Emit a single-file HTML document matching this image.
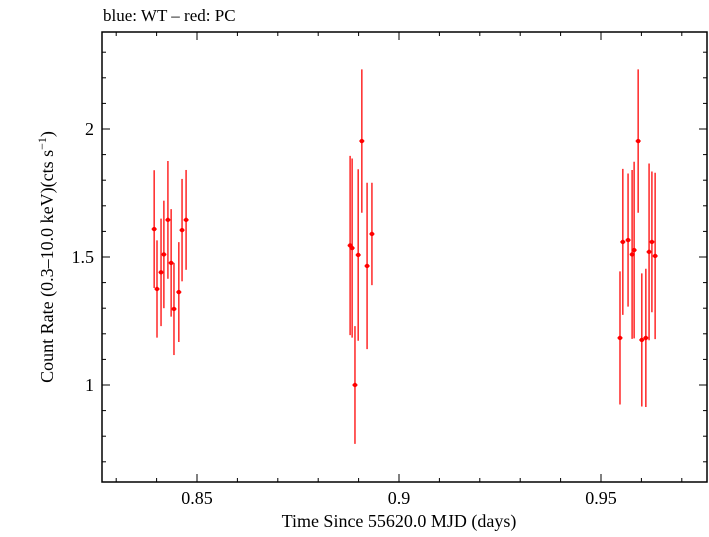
<!DOCTYPE html>
<html><head><meta charset="utf-8"><style>
body{margin:0;background:#fff;}
svg text{font-family:"Liberation Serif",serif;fill:#000;}
</style></head><body>
<svg id="chart" width="709" height="532" viewBox="0 0 709 532" xmlns="http://www.w3.org/2000/svg">
<text x="103" y="21" font-size="17">blue: WT – red: PC</text>
<rect x="102" y="32" width="605" height="450" fill="none" stroke="#000" stroke-width="1.5"/>
<g id="ticks"></g>
<g id="marks"></g>
<text x="399" y="527" font-size="18" text-anchor="middle">Time Since 55620.0 MJD (days)</text>
<text transform="translate(53,257) rotate(-90)" font-size="18" text-anchor="middle">Count Rate (0.3–10.0 keV)(cts s<tspan baseline-shift="super" font-size="12">−1</tspan>)</text>
</svg>
<script>
const times=[0.8394,0.8401,0.8411,0.8418,0.8428,0.8436,0.8443,0.8455,0.8463,0.8473,
0.8879,0.8884,0.8891,0.8899,0.8908,0.8921,0.8933,
0.9547,0.9554,0.9567,0.9577,0.9582,0.9592,0.9601,0.9611,0.9619,0.9626,0.9634];
const rates=[1.609,1.375,1.44,1.51,1.645,1.477,1.297,1.363,1.605,1.645,
1.545,1.535,1.0,1.508,1.953,1.465,1.59,
1.184,1.559,1.566,1.51,1.527,1.953,1.176,1.184,1.52,1.559,1.504];
const errs=[0.23,0.19,0.21,0.21,0.23,0.21,0.18,0.195,0.2,0.195,
0.35,0.35,0.23,0.335,0.28,0.325,0.2,
0.26,0.285,0.26,0.33,0.345,0.28,0.26,0.27,0.345,0.275,0.325];
const xMajor=[0.85,0.9,0.95];
const xLabels=["0.85","0.9","0.95"];
const yMajor=[1,1.5,2];
const yLabels=["1","1.5","2"];
const L=102,R=707,T=32,B=482;
const xs=t=>197+(t-0.85)*4040;
const ys=r=>385-(r-1)*256;
const NS="http://www.w3.org/2000/svg";
function mk(tag,attrs,parent){const e=document.createElementNS(NS,tag);for(const k in attrs)e.setAttribute(k,attrs[k]);parent.appendChild(e);return e;}
const tg=document.getElementById('ticks');
for(let i=82;i<=98;i++){const v=i/100,x=xs(v);if(x<L||x>R)continue;const maj=i%5===0;const len=maj?8:4;
 const a=mk('line',{x1:x,x2:x,y1:B,y2:B-len,stroke:'#000','stroke-width':1},tg);
 
 const b=mk('line',{x1:x,x2:x,y1:T,y2:T+len,stroke:'#000','stroke-width':1},tg);
 }
for(let i=6;i<=24;i++){const v=i/10,y=ys(v);if(y<T||y>B)continue;const maj=i%5===0;const len=maj?8:4;
 const a=mk('line',{x1:L,x2:L+len,y1:y,y2:y,stroke:'#000','stroke-width':1},tg);
 
 const b=mk('line',{x1:R,x2:R-len,y1:y,y2:y,stroke:'#000','stroke-width':1},tg);
 }
xMajor.forEach((v,i)=>{const t=mk('text',{x:xs(v),y:504,'font-size':18,'text-anchor':'middle'},tg);t.textContent=xLabels[i];
 });
yMajor.forEach((v,i)=>{const t=mk('text',{x:94,y:ys(v)+6,'font-size':18,'text-anchor':'end'},tg);t.textContent=yLabels[i];
 });
const mg=document.getElementById('marks');
times.forEach((t,i)=>{const x=xs(t),y=ys(rates[i]);
 const g=mk('g',{},mg);
 
 
 mk('line',{x1:x,x2:x,y1:ys(rates[i]+errs[i]),y2:ys(rates[i]-errs[i]),stroke:'#ff0000','stroke-width':1.5,'stroke-opacity':0.85},g);
 mk('line',{x1:x-2.5,x2:x+2.5,y1:y,y2:y,stroke:'#ff0000','stroke-width':1.5},g);
 mk('circle',{cx:x,cy:y,r:2.2,fill:'#ff0000'},g);
});
</script>
</body></html>
